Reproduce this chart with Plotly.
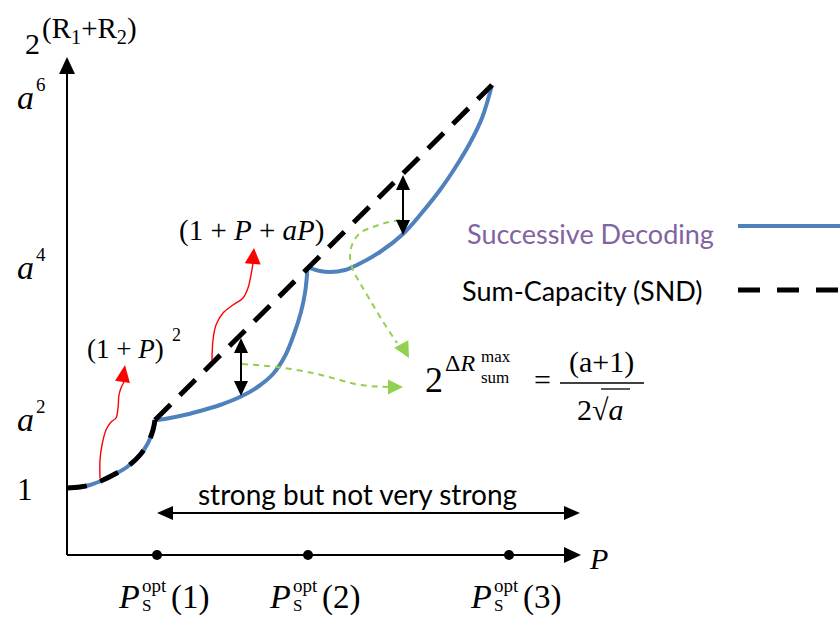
import plotly.graph_objects as go

# ---------------- data (x: P axis units, y: rate-level units) ----------------
early_x = [0, 13, 23, 36, 48, 60, 73, 81, 86, 88]
early_y = [67, 68, 70, 75, 81, 88, 100, 112, 125, 135]
sd_mid_x = [88, 90, 113, 133, 153, 175, 192, 206, 218, 227, 234, 238, 240, 240.5]
sd_mid_y = [135, 135, 139, 144, 150, 159, 169, 181, 199, 221, 243, 262, 280, 288]
sd_hi_x = [240.5, 243, 253, 263, 278, 290, 313, 336, 353, 373, 388, 403, 415, 425]
sd_hi_y = [288, 287, 284, 283, 285, 290, 303, 321, 340, 365, 387, 412, 437, 470]
sc_x = [88, 425]
sc_y = [135, 470]

y_tick_vals = [67, 135, 287, 457]
y_tick_sup = ["", "2", "4", "6"]
p_tick_vals = [90, 241, 442]
p_tick_idx = ["(1)", "(2)", "(3)"]

gap1_x = 174; gap1_y = [159, 217]
gap2_x = 336; gap2_y = [320, 380]

red1_x = [33, 33, 35, 39, 44, 49, 51, 52, 54, 57]
red1_y = [77, 95, 110, 125, 133, 137, 147, 160, 167, 173]
red2_x = [145, 146, 149, 156, 166, 176, 181, 184, 186]
red2_y = [195, 215, 230, 242, 250, 257, 267, 280, 292]
green1_x = [175, 210, 246, 273, 293, 321]
green1_y = [191, 188, 182, 175, 170, 168]
green2_x = [333, 318, 306, 293, 285, 283, 286, 293, 303, 315, 330]
green2_y = [335, 332, 328, 322, 310, 298, 285, 272, 255, 235, 212]

BLUE = "#4f81bd"
GREEN = "#92d050"
PURPLE = "#8064a2"
SERIF = "Liberation Serif"
SANS = "Lato"

X0, Y0 = 67, 555  # screen position of origin (for layout of text only)


def D(xp, yp):
    return xp - X0, Y0 - yp


fig = go.Figure()


def line(x, y, color, width, dash="solid", shape="linear"):
    fig.add_trace(go.Scatter(x=x, y=y, mode="lines", hoverinfo="skip",
                             line=dict(color=color, width=width, dash=dash, shape=shape),
                             showlegend=False))


def tri(tip, d, L, W, color):
    import math
    n = math.hypot(*d)
    dx, dy = d[0] / n, d[1] / n
    nx, ny = -dy, dx
    bx, by = tip[0] - L * dx, tip[1] - L * dy
    path = (f"M{tip[0]},{tip[1]} L{bx + W * nx},{by + W * ny} "
            f"L{bx - W * nx},{by - W * ny} Z")
    fig.add_shape(type="path", path=path, fillcolor=color, line_width=0,
                  xref="x", yref="y", layer="above")


def T(text, xp, yp, size, family=SERIF, color="black", xanchor="center", yanchor="middle"):
    x, y = D(xp, yp)
    fig.add_annotation(x=x, y=y, text=text, showarrow=False, xanchor=xanchor,
                       yanchor=yanchor, font=dict(family=family, size=size, color=color))


# axes
ax_top = D(0, 73)[1]; ax_tip = D(0, 57)[1]
line([0, 0], [0, ax_top], "black", 2)
tri((0, ax_tip), (0, 1), 17, 8, "black")
ax_right = D(564, 0)[0]; ax_rtip = D(581, 0)[0]
line([0, ax_right], [0, 0], "black", 2)
tri((ax_rtip, 0), (1, 0), 17, 8, "black")
fig.add_trace(go.Scatter(x=p_tick_vals, y=[0] * 3, mode="markers", hoverinfo="skip",
                         marker=dict(color="black", size=10), showlegend=False))

# curves
line(early_x, early_y, BLUE, 4, shape="spline")
line(sd_mid_x, sd_mid_y, BLUE, 4, shape="spline")
line(sd_hi_x, sd_hi_y, BLUE, 4, shape="spline")
line(early_x, early_y, "black", 5, dash="20px,14px", shape="spline")
line(sc_x, sc_y, "black", 5, dash="22px,13px")

# legend samples
lx = [D(738, 0)[0], D(840, 0)[0]]
line(lx, [D(0, 226)[1]] * 2, BLUE, 4)
line(lx, [D(0, 290)[1]] * 2, "black", 5, dash="22px,17px")

# gap arrows
for gx, gy in ((gap1_x, gap1_y), (gap2_x, gap2_y)):
    line([gx, gx], [gy[0] + 14, gy[1] - 14], "black", 2)
    tri((gx, gy[1]), (0, 1), 15, 7, "black")
    tri((gx, gy[0]), (0, -1), 15, 7, "black")

# strong range arrow
sy = D(0, 513)[1]
sx0, sx1 = D(157, 0)[0], D(580, 0)[0]
line([sx0 + 14, sx1 - 14], [sy, sy], "black", 2)
tri((sx0, sy), (-1, 0), 16, 7, "black")
tri((sx1, sy), (1, 0), 16, 7, "black")

# red arrows
line(red1_x, red1_y, "#ff0000", 1.4, shape="spline")
tri((58, 190), (0.15, 1), 17, 7.5, "#ff0000")
line(red2_x, red2_y, "#ff0000", 1.4, shape="spline")
tri((187, 307), (0.08, 1), 16, 8, "#ff0000")

# green arrows
line(green1_x, green1_y, GREEN, 2, dash="6px,5px", shape="spline")
tri((336, 168), (1, 0), 15, 7.5, GREEN)
line(green2_x, green2_y, GREEN, 2, dash="6px,5px", shape="spline")
tri((342, 197), (0.55, -1), 16, 8, GREEN)

# ---------------- texts ----------------
T("2", 32, 43, 30)
T("(R<sub>1</sub>+R<sub>2</sub>)", 40, 30, 29, xanchor="left")
for v, s in zip(y_tick_vals, y_tick_sup):
    yp = Y0 - v
    if s == "":
        T("1", 25, yp + 1, 31)
    else:
        T("<i>a</i>", 25, yp - 1, 34)
        T(s, 41, yp - 14, 19)

T("(1 + <i>P</i> + <i>aP</i>)", 251, 230, 29)
T("(1 + <i>P</i>)", 125, 349, 27)
T("2", 176, 335, 18)

# formula
T("2", 434, 380, 36)
T("Δ<i>R</i>", 443, 363, 24, xanchor="left")
T("max", 479, 356, 17, xanchor="left")
T("sum", 479, 377, 17, xanchor="left")
T("=", 542, 379, 30)
fx0, fy = D(560, 383)
fx1, _ = D(644, 383)
fig.add_shape(type="line", x0=fx0, x1=fx1, y0=fy, y1=fy, line=dict(color="black", width=1.5))
T("(a+1)", 601, 362, 30)
T("2√<i>a</i>", 600, 409, 30)
ox0, oy = D(601, 389)
ox1, _ = D(630, 389)
fig.add_shape(type="line", x0=ox0, x1=ox1, y0=oy, y1=oy, line=dict(color="black", width=1.3))

# P axis and P_S^opt labels
T("<i>P</i>", 598, 558, 30)
for v, idx in zip(p_tick_vals, p_tick_idx):
    L = v + X0 - 38
    T("<i>P</i>", L + 10, 596, 34)
    T("opt", L + 21, 585, 19, xanchor="left")
    T("S", L + 21, 617, 17, xanchor="left", yanchor="bottom")
    T(idx, L + 50, 597, 33, xanchor="left")

T("strong but not very strong", 357, 494, 28, family=SANS)
T("Successive Decoding", 716, 233, 27, family=SANS, color=PURPLE, xanchor="right")
T("Sum-Capacity (SND)", 705, 290, 27, family=SANS, xanchor="right")

fig.update_layout(
    width=840, height=617, margin=dict(l=0, r=0, t=0, b=0),
    paper_bgcolor="white", plot_bgcolor="white",
    xaxis=dict(range=[-X0, 840 - X0], visible=False, fixedrange=True),
    yaxis=dict(range=[Y0 - 617, Y0], visible=False, fixedrange=True),
)
fig.write_html("out.html")
